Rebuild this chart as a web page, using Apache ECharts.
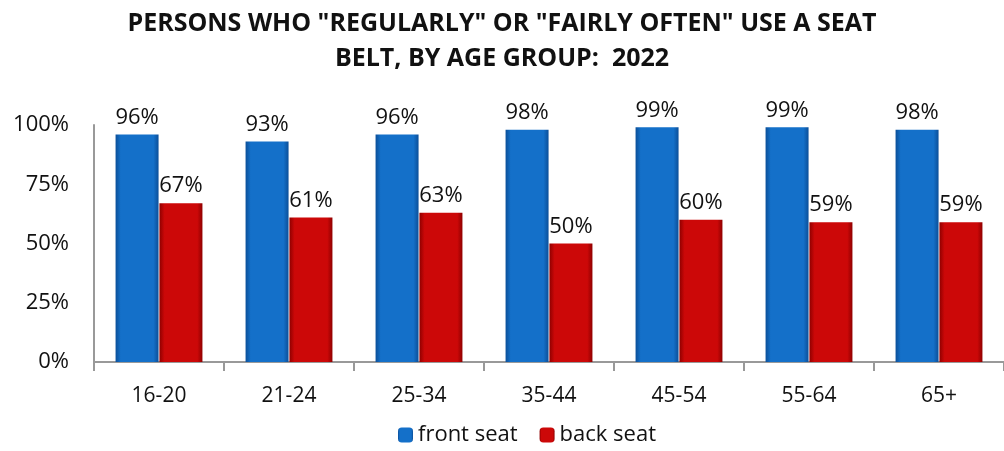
<!DOCTYPE html>
<html>
<head>
<meta charset="utf-8">
<script src="https://cdn.jsdelivr.net/npm/echarts@6/dist/echarts.min.js"></script>
<style>
  html, body { margin: 0; padding: 0; background: #fff; }
  #chart { width: 1004px; height: 451px; }
</style>
</head>
<body>
<div id="chart"></div>
<script>
// age groups and shares (percent)
const ageGroups = ['16-20', '21-24', '25-34', '35-44', '45-54', '55-64', '65+'];
const frontSeat = [96, 93, 96, 98, 99, 99, 98];
const backSeat = [67, 61, 63, 50, 60, 59, 59];
const yTicks = [0, 25, 50, 75, 100];

const chart = echarts.init(document.getElementById('chart'));

// fake the bevelled look with a sideways gradient
function barGradient(edge, mid) {
  return new echarts.graphic.LinearGradient(0, 0, 1, 0, [
    { offset: 0, color: edge },
    { offset: 0.12, color: mid },
    { offset: 0.88, color: mid },
    { offset: 1, color: edge }
  ]);
}

const labelStyle = {
  show: true,
  position: 'top',
  distance: 6,
  formatter: '{c}%',
  color: '#111',
  fontFamily: 'Open Sans',
  fontSize: 22
};

chart.setOption({
  animation: false,
  textStyle: { fontFamily: 'Open Sans' },
  title: {
    text: 'PERSONS WHO "REGULARLY" OR "FAIRLY OFTEN" USE A SEAT\nBELT, BY AGE GROUP:  2022',
    left: 'center',
    top: 6,
    padding: 0,
    textStyle: { fontFamily: 'Open Sans', fontWeight: 'bold', fontSize: 25, lineHeight: 35, color: '#111' }
  },
  legend: {
    bottom: 0,
    left: 393,
    itemWidth: 15,
    itemHeight: 15,
    itemGap: 22,
    textStyle: { fontFamily: 'Open Sans', fontSize: 22, color: '#111' },
    data: ['front seat', 'back seat']
  },
  grid: { left: 94, right: 0, top: 125, bottom: 89 },
  xAxis: {
    type: 'category',
    data: ageGroups,
    axisLine: { lineStyle: { color: '#999', width: 2 } },
    axisTick: { show: true, length: 9, lineStyle: { color: '#999', width: 2 } },
    axisLabel: { fontFamily: 'Open Sans', fontSize: 21, color: '#111', margin: 24 }
  },
  yAxis: {
    type: 'value',
    min: 0,
    max: 100,
    interval: 25,
    axisLine: { show: true, lineStyle: { color: '#999', width: 2 } },
    axisTick: { show: false },
    splitLine: { show: false },
    axisLabel: {
      fontFamily: 'Open Sans',
      fontSize: 22,
      color: '#111',
      margin: 25,
      formatter: v => (yTicks.includes(v) ? v + '%' : '')
    }
  },
  series: [
    {
      name: 'front seat',
      type: 'bar',
      data: frontSeat,
      barWidth: 43,
      barGap: '2%',
      itemStyle: { color: barGradient('#0b4f99', '#1470c9') },
      label: labelStyle
    },
    {
      name: 'back seat',
      type: 'bar',
      data: backSeat,
      barWidth: 43,
      itemStyle: { color: barGradient('#8f0000', '#cc0808') },
      label: labelStyle
    }
  ]
});
</script>
</body>
</html>
